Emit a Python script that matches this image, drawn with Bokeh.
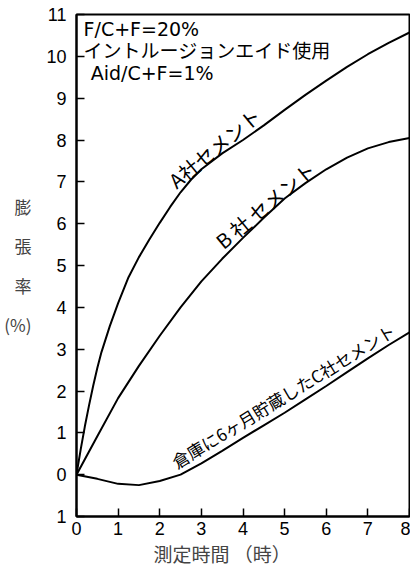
from bokeh.plotting import figure
from bokeh.models import Range1d, FixedTicker, Label, Title
from bokeh.embed import file_html
from bokeh.resources import INLINE

# ---- data ----
hours_a = [0, 0.1, 0.2, 0.3, 0.4, 0.5, 0.6, 0.8, 1.0, 1.25, 1.5, 1.75, 2.0, 2.25, 2.5,
           2.75, 3.0, 3.5, 4.0, 4.5, 5.0, 5.5, 6.0, 6.5, 7.0, 7.5, 8.0]
exp_a = [0, 0.6, 1.15, 1.65, 2.12, 2.55, 2.93, 3.55, 4.1, 4.72, 5.2, 5.62, 6.02, 6.4, 6.75,
         7.05, 7.3, 7.68, 8.0, 8.35, 8.72, 9.08, 9.42, 9.75, 10.05, 10.32, 10.57]

hours_b = [0, 0.5, 1.0, 1.5, 2.0, 2.5, 3.0, 3.5, 4.0, 4.5, 5.0, 5.5, 6.0, 6.5, 7.0, 7.5, 8.0]
exp_b = [0, 0.92, 1.83, 2.6, 3.32, 4.0, 4.62, 5.16, 5.66, 6.14, 6.6, 6.97, 7.3, 7.58, 7.8, 7.95, 8.05]

hours_c = [0, 0.5, 1.0, 1.5, 2.0, 2.5, 3.0, 3.5, 4.0, 4.5, 5.0, 5.5, 6.0, 6.5, 7.0, 7.5, 8.0]
exp_c = [0, -0.1, -0.22, -0.25, -0.15, 0.0, 0.27, 0.57, 0.88, 1.18, 1.48, 1.8, 2.12, 2.45, 2.78, 3.1, 3.4]

x_ticks = [0, 1, 2, 3, 4, 5, 6, 7, 8]
y_ticks = [-1, 0, 1, 2, 3, 4, 5, 6, 7, 8, 9, 10, 11]
y_tick_labels = ["1", "0", "1", "2", "3", "4", "5", "6", "7", "8", "9", "10", "11"]

label_a = "A社セメント"
label_b = "B 社 セメント"
label_c = "倉庫に6ヶ月貯蔵したC社セメント"
note_lines = ["F/C+F=20%", "イントルージョンエイド使用", "Aid/C+F=1%"]
x_title = "測定時間 （時）"
y_title = "膨\n張\n率\n(%)"

JP = "Noto Sans CJK JP"
LAT = "DejaVu Sans"
NUM = "Liberation Sans"

p = figure(width=410, height=575, output_backend="svg", toolbar_location=None,
           x_range=Range1d(0, 8), y_range=Range1d(-1, 11),
           min_border_left=76, min_border_right=1, min_border_top=14, min_border_bottom=59)
p.background_fill_color = "white"
p.border_fill_color = "white"
p.grid.visible = False
p.outline_line_color = "black"
p.outline_line_width = 2

for ax in (p.xaxis[0], p.yaxis[0]):
    ax.axis_line_width = 2
    ax.axis_line_color = "black"
    ax.major_tick_in = 8
    ax.major_tick_out = 0
    ax.major_tick_line_width = 1.5
    ax.minor_tick_line_color = None
    ax.major_label_text_font = NUM
    ax.major_label_text_font_size = "18px"
    ax.major_label_text_color = "black"

p.xaxis.ticker = FixedTicker(ticks=x_ticks)
p.yaxis.ticker = FixedTicker(ticks=y_ticks)
p.yaxis.major_label_overrides = {t: s for t, s in zip(y_ticks, y_tick_labels)}
p.xaxis.major_label_standoff = 5
p.yaxis.major_label_standoff = 10

# y title: stacked characters
p.yaxis.axis_label = y_title
p.yaxis.axis_label_orientation = "horizontal"
p.yaxis.axis_label_text_font = JP
p.yaxis.axis_label_text_font_size = "17px"
p.yaxis.axis_label_text_font_style = "normal"
p.yaxis.axis_label_text_line_height = 1.57
p.yaxis.axis_label_text_align = "center"
p.yaxis.axis_label_standoff = 12

# x title
xt = Title(text=x_title, align="left", offset=77, text_font=JP, text_font_size="19px",
           text_font_style="normal", standoff=0)
p.add_layout(xt, "below")

for xs, ys in ((hours_a, exp_a), (hours_b, exp_b), (hours_c, exp_c)):
    p.line(xs, ys, line_color="black", line_width=2)

def lab(x, y, text, font, size, angle=0.0, align="center", baseline="middle"):
    p.add_layout(Label(x=x, y=y, text=text, text_font=font, text_font_size=size,
                       angle=angle, text_align=align, text_baseline=baseline,
                       text_color="black"))

# curve labels
lab(3.32, 7.82, label_a, JP, "20px", angle=0.69)
lab(4.54, 6.45, label_b, JP, "20px", angle=0.69)
lab(4.97, 1.89, label_c, JP, "17px", angle=0.55)

# notes top-left
lab(0.17, 10.65, note_lines[0], LAT, "19px", align="left")
lab(0.17, 10.17, note_lines[1], JP, "19px", align="left")
lab(0.34, 9.6, note_lines[2], LAT, "19px", align="left")

open("out.html", "w").write(file_html(p, INLINE))
